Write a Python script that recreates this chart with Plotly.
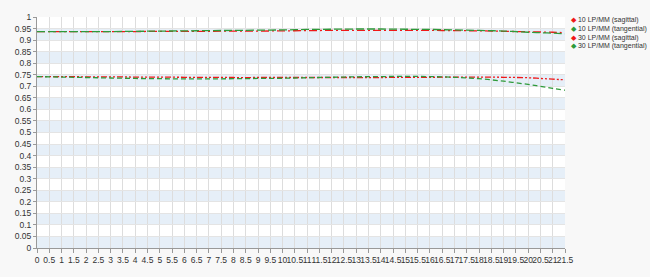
import plotly.graph_objects as go

x_vals = [0, 1, 2, 3, 4, 5, 6, 7, 8, 9, 10, 11, 12, 13, 14, 15, 16, 17, 18, 19, 20, 20.5, 21, 21.5]

lp10_sag = [0.937, 0.937, 0.937, 0.937, 0.937, 0.938, 0.938, 0.938, 0.939, 0.939, 0.940, 0.941, 0.942, 0.942, 0.942, 0.942, 0.942, 0.941, 0.940, 0.938, 0.936, 0.935, 0.934, 0.932]
lp10_tan = [0.937, 0.937, 0.937, 0.937, 0.938, 0.939, 0.940, 0.941, 0.942, 0.943, 0.944, 0.946, 0.947, 0.948, 0.948, 0.947, 0.946, 0.944, 0.942, 0.939, 0.934, 0.932, 0.930, 0.927]
lp30_sag = [0.742, 0.742, 0.741, 0.741, 0.740, 0.740, 0.739, 0.739, 0.738, 0.738, 0.738, 0.738, 0.738, 0.738, 0.738, 0.739, 0.739, 0.740, 0.740, 0.739, 0.737, 0.734, 0.731, 0.728]
lp30_tan = [0.742, 0.740, 0.738, 0.736, 0.734, 0.733, 0.732, 0.732, 0.733, 0.734, 0.735, 0.737, 0.739, 0.741, 0.742, 0.743, 0.742, 0.739, 0.733, 0.722, 0.708, 0.700, 0.691, 0.683]

series_names = ["10 LP/MM (sagittal)", "10 LP/MM (tangential)", "30 LP/MM (sagittal)", "30 LP/MM (tangential)"]

x_ticks = [i * 0.5 for i in range(44)]
x_ticktext = [("%g" % v) for v in x_ticks]
y_ticks = [i * 0.05 for i in range(21)]
y_ticktext = [("%g" % round(v, 2)) for v in y_ticks]

RED = "#f01818"
GREEN = "#2e9a3a"

fig = go.Figure()
styles = [
    (lp10_sag, RED, "8px,3px,2px,3px"),
    (lp10_tan, GREEN, "8px,3px"),
    (lp30_sag, RED, "6px,2px,2px,2px,2px,2px"),
    (lp30_tan, GREEN, "5px,3px"),
]
for name, (ys, col, dash) in zip(series_names, styles):
    fig.add_trace(go.Scatter(
        x=x_vals, y=ys, name=name, mode="lines",
        line=dict(color=col, width=1.3, dash=dash, shape="spline"),
        showlegend=False,
    ))

# alternating background bands
shapes = []
for i in range(0, 20, 2):
    shapes.append(dict(type="rect", xref="paper", yref="y", x0=0, x1=1,
                       y0=y_ticks[i], y1=y_ticks[i + 1],
                       fillcolor="#e6eff8", line=dict(width=0), layer="below"))

# legend drawn as annotations to the right of the plot
annotations = []
legend_rows_y = [0.987, 0.949, 0.911, 0.873]
for name, (ys, col, dash), yy in zip(series_names, styles, legend_rows_y):
    annotations.append(dict(
        xref="paper", yref="paper", x=1.008, y=yy, xanchor="left", yanchor="middle",
        showarrow=False, align="left",
        text="<span style='color:%s'>&#9670;</span> %s" % (col, name),
        font=dict(size=7, color="#333333"),
    ))

fig.update_layout(
    width=650, height=277,
    margin=dict(l=37, r=85, t=17, b=23),
    paper_bgcolor="#f8f8f8",
    plot_bgcolor="#ffffff",
    shapes=shapes,
    annotations=annotations,
    font=dict(family="Liberation Sans, Arial, sans-serif", size=9, color="#333333"),
    showlegend=False,
)
fig.update_xaxes(
    range=[0, 21.5], tickvals=x_ticks, ticktext=x_ticktext, tickangle=0,
    showgrid=True, gridcolor="#dddddd", gridwidth=1,
    showline=True, linecolor="#999999", linewidth=1,
    ticks="outside", ticklen=4, tickcolor="#999999",
    tickfont=dict(size=8.5), zeroline=False, fixedrange=True,
)
fig.update_yaxes(
    range=[0, 1], tickvals=y_ticks, ticktext=y_ticktext,
    showgrid=True, gridcolor="#e4e4e4", gridwidth=1,
    showline=True, linecolor="#999999", linewidth=1,
    ticks="outside", ticklen=3, tickcolor="#999999",
    tickfont=dict(size=8.5), zeroline=False, fixedrange=True,
)

fig.write_html("out.html")
